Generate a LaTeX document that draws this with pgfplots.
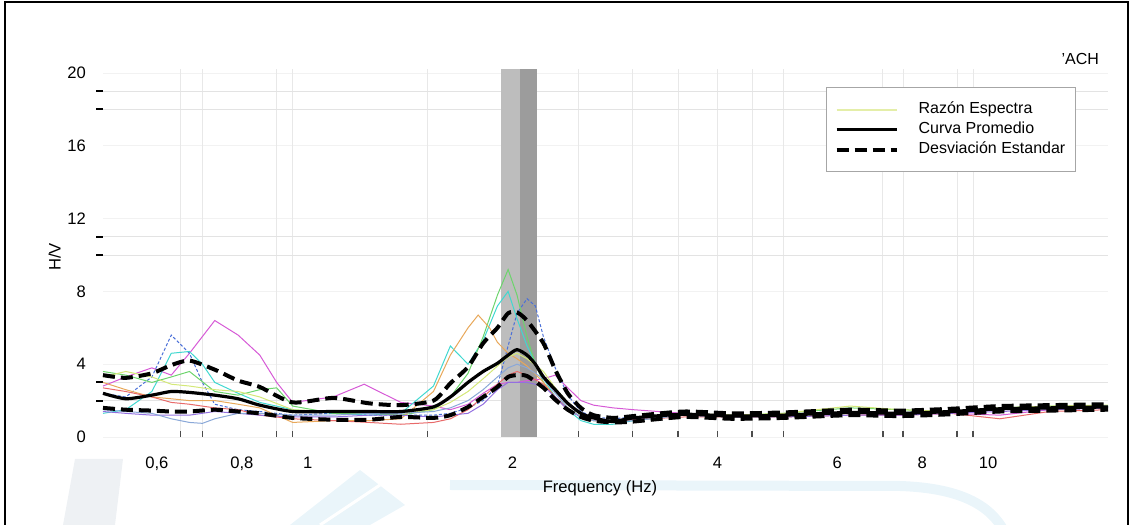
\documentclass[border=0pt]{standalone}
\usepackage{fontspec}
\setmainfont{Liberation Sans}
\usepackage{pgfplots}
\pgfplotsset{compat=1.18}
\definecolor{bandL}{HTML}{BDBDBD}
\definecolor{bandD}{HTML}{9C9C9C}
\definecolor{cMag}{HTML}{D65AD6}
\definecolor{cBlue}{HTML}{4A6FD8}
\definecolor{cCyan}{HTML}{40D8D0}
\definecolor{cGreen}{HTML}{6CD46C}
\definecolor{cOrange}{HTML}{E8A85A}
\definecolor{cYel}{HTML}{D4E878}
\definecolor{cRed}{HTML}{E86A6A}
\definecolor{cPurple}{HTML}{9370E0}
\definecolor{cLBlue}{HTML}{8AA8D8}
\definecolor{legYel}{HTML}{E4EEA8}
\definecolor{wm}{HTML}{EAF5FA}
\definecolor{wmg}{HTML}{EEF1F4}
\begin{document}
\begin{tikzpicture}[x=1pt,y=1pt]
% faint background watermark
\fill[wmg] (37.5,33) -- (61.5,33) -- (57.5,0) -- (31.5,0) -- cycle;
\fill[wm] (145,0) -- (180,27.5) -- (202.5,10) -- (185,0) -- cycle;
\draw[white, line width=1.5pt] (160,0) -- (190,20);
\draw[line width=5pt, wm] (225,20) -- (450,19.5) .. controls (480,18.5) and (495,10) .. (502,-3);
\begin{axis}[
  at={(51.5pt,44pt)}, anchor=south west,
  scale only axis, width=502.5pt, height=183.8pt,
  xmode=log, xmin=0.5, xmax=15, ymin=0, ymax=20.2,
  xtick={0.6,0.8,1,2,4,6,8,10},
  xticklabels={{0,6},{0,8},1,2,4,6,8,10},
  ytick={0,4,8,12,16,20},
  xminorticks=false, yminorticks=false,
  tick pos=left,
  major tick length=0pt,
  axis line style={draw=none},
  ymajorgrids, major grid style={gray!10},
  extra x ticks={0.65,0.7,0.9,0.95,1.5,2.5,3,3.5,4,4.5,5,7,7.5,9,9.5},
  extra x tick labels={},
  extra x tick style={grid=major, major grid style={gray!18}, major tick length=3pt, tick align=inside, tick style={black!70, line width=0.8pt}},
  extra y ticks={2,3,10,11,18,19},
  extra y tick labels={},
  extra y tick style={grid=major, major grid style={gray!22}, major tick length=3.5pt, tick align=outside, tick style={black, line width=1pt}},
  tick label style={font=\fontsize{8.3}{10}\selectfont},
  /pgf/number format/assume math mode=true,
  xticklabel style={yshift=-6.5pt},
  yticklabel style={xshift=-5pt},
  xlabel={Frequency (Hz)},
  xlabel style={at={(axis description cs:0.4945,-0.140)}, anchor=center, font=\fontsize{8.3}{10}\selectfont},
  ylabel={H/V},
  ylabel style={at={(axis description cs:-0.048,0.49)}, anchor=center, font=\fontsize{8.3}{10}\selectfont},
  legend style={at={(axis description cs:0.7194,0.952)}, anchor=north west, draw=gray!70, line width=0.6pt, fill=white,
    inner xsep=4pt, inner ysep=6pt, font=\fontsize{8}{9.6}\selectfont,
    nodes={inner sep=1pt, text height=6pt, text depth=2pt},
    /tikz/every odd column/.append style={column sep=9pt}},
  legend cell align=left,
  legend image code/.code={\draw[#1] (0pt,0pt) -- (30pt,0pt);},
  clip=false,
]
% legend entries
\addlegendimage{legYel, line width=1pt}
\addlegendentry{Razón Espectra}
\addlegendimage{black, line width=1.6pt}
\addlegendentry{Curva Promedio}
\addlegendimage{black, line width=2pt, dash pattern=on 6pt off 3pt}
\addlegendentry{Desviación Estandar}
% band
\addplot[fill=bandL, draw=none, forget plot] coordinates {(1.92,20.2) (2.05,20.2)} \closedcycle;
\addplot[fill=bandD, draw=none, forget plot] coordinates {(2.05,20.2) (2.17,20.2)} \closedcycle;
% individual curves
\addplot[cMag, line width=0.5pt, forget plot] coordinates {
(0.50,2.8)(0.54,3.3)(0.59,3.8)(0.63,3.4)(0.67,4.6)(0.73,6.4)(0.79,5.6)(0.85,4.5)(0.90,3.0)(0.95,1.9)
(1.09,2.2)(1.21,2.9)(1.37,1.9)(1.53,1.7)(1.62,1.5)(1.72,1.8)(1.81,2.4)(1.90,2.9)(1.97,3.0)(2.03,3.0)
(2.10,3.1)(2.22,3.2)(2.31,3.4)(2.41,2.7)(2.52,2.0)(2.63,1.75)(2.81,1.6)(3.01,1.5)(3.57,1.3)(4.22,1.2)
(5.0,1.25)(6.27,1.3)(7.43,1.2)(8.8,1.3)(10.4,1.2)(12.3,1.5)(15,1.6)};
\addplot[cBlue, line width=0.5pt, dash pattern=on 1.5pt off 1pt, forget plot] coordinates {
(0.50,2.4)(0.54,2.2)(0.59,3.3)(0.63,5.6)(0.67,4.6)(0.70,3.0)(0.73,1.8)(0.79,1.5)(0.85,1.4)(0.95,1.2)
(1.09,1.3)(1.23,1.2)(1.37,1.2)(1.53,1.2)(1.62,1.3)(1.72,1.6)(1.81,2.0)(1.90,2.8)(1.97,5.0)(2.03,6.8)
(2.10,7.6)(2.16,7.2)(2.22,5.5)(2.31,3.8)(2.41,2.3)(2.52,1.4)(2.63,1.1)(2.81,1.0)(3.01,1.1)(3.57,1.3)
(4.22,1.1)(5.0,1.2)(6.27,1.3)(7.43,1.3)(8.8,1.4)(10.4,1.5)(12.3,1.6)(15,1.7)};
\addplot[cCyan, line width=0.5pt, forget plot] coordinates {
(0.50,1.3)(0.54,1.5)(0.59,2.5)(0.63,4.6)(0.67,4.7)(0.70,4.0)(0.73,3.0)(0.79,2.4)(0.85,1.9)(0.95,1.5)
(1.09,1.3)(1.23,1.2)(1.37,1.3)(1.53,2.8)(1.62,5.0)(1.72,4.0)(1.81,5.3)(1.90,7.2)(1.97,8.0)(2.03,6.5)
(2.10,5.0)(2.22,3.2)(2.31,2.2)(2.41,1.5)(2.52,0.9)(2.63,0.7)(2.81,0.7)(3.01,0.9)(3.57,1.2)(4.22,1.15)
(5.0,1.2)(6.27,1.3)(7.43,1.35)(8.8,1.4)(10.4,1.5)(12.3,1.6)(15,1.7)};
\addplot[cGreen, line width=0.5pt, forget plot] coordinates {
(0.50,3.6)(0.54,3.4)(0.59,3.0)(0.63,3.3)(0.67,3.6)(0.73,2.5)(0.79,2.3)(0.85,2.6)(0.90,2.7)(0.95,1.7)
(1.09,1.3)(1.23,1.3)(1.37,1.2)(1.53,1.5)(1.62,2.2)(1.72,3.5)(1.81,5.5)(1.90,7.8)(1.97,9.2)(2.03,7.8)
(2.10,5.5)(2.16,4.0)(2.22,3.0)(2.31,2.2)(2.41,1.6)(2.52,1.1)(2.63,0.9)(2.81,0.9)(3.01,1.0)(3.57,1.3)
(4.22,1.2)(5.0,1.3)(6.27,1.6)(7.43,1.5)(8.8,1.4)(10.4,1.6)(12.3,1.7)(15,1.7)};
\addplot[cOrange, line width=0.5pt, forget plot] coordinates {
(0.50,3.0)(0.54,2.6)(0.59,2.2)(0.63,2.1)(0.67,2.0)(0.73,2.0)(0.79,1.8)(0.85,1.6)(0.95,0.8)(1.09,0.9)
(1.23,0.9)(1.37,1.0)(1.53,2.5)(1.62,4.5)(1.72,6.0)(1.78,6.7)(1.85,6.0)(1.90,5.2)(1.97,4.6)(2.03,4.3)
(2.10,3.9)(2.22,3.0)(2.31,2.2)(2.41,1.6)(2.52,1.1)(2.63,0.9)(2.81,0.9)(3.01,1.0)(3.57,1.2)(4.22,1.1)
(5.0,1.2)(6.27,1.3)(7.43,1.3)(8.8,1.35)(10.4,1.5)(12.3,1.6)(15,1.65)};
\addplot[cYel, line width=0.5pt, forget plot] coordinates {
(0.50,3.3)(0.54,3.6)(0.59,3.3)(0.63,2.9)(0.67,2.8)(0.73,2.6)(0.79,2.5)(0.85,2.2)(0.95,1.5)(1.09,1.4)
(1.23,1.3)(1.37,1.3)(1.53,1.5)(1.62,1.9)(1.72,2.5)(1.81,3.2)(1.90,3.9)(1.97,4.4)(2.03,4.6)(2.10,4.3)
(2.22,3.6)(2.31,2.7)(2.41,1.9)(2.52,1.2)(2.63,1.0)(2.81,0.9)(3.01,1.0)(3.57,1.3)(4.22,1.2)(5.0,1.3)
(6.27,1.7)(7.43,1.5)(8.8,1.4)(10.4,1.6)(12.3,1.7)(15,1.75)};
\addplot[cRed, line width=0.5pt, forget plot] coordinates {
(0.50,2.7)(0.54,2.5)(0.59,2.2)(0.63,1.9)(0.67,1.8)(0.73,1.6)(0.79,1.5)(0.85,1.2)(0.95,1.0)(1.09,0.9)
(1.23,0.8)(1.37,0.7)(1.53,0.8)(1.62,1.0)(1.72,1.5)(1.81,2.2)(1.90,2.9)(1.97,3.4)(2.03,3.6)(2.10,3.4)
(2.22,2.9)(2.31,2.2)(2.41,1.5)(2.52,1.1)(2.63,0.9)(2.81,0.85)(3.01,0.95)(3.57,1.1)(4.22,1.1)(5.0,1.1)
(6.27,1.2)(7.43,1.2)(8.8,1.3)(10.4,1.0)(12.3,1.4)(15,1.5)};
\addplot[cPurple, line width=0.5pt, forget plot] coordinates {
(0.50,1.4)(0.54,1.3)(0.59,1.2)(0.63,1.2)(0.67,1.2)(0.73,1.4)(0.79,1.3)(0.85,1.2)(0.95,1.1)(1.09,1.1)
(1.23,1.2)(1.37,1.2)(1.53,1.1)(1.62,1.2)(1.72,1.3)(1.81,1.8)(1.90,2.6)(1.97,3.0)(2.03,3.0)(2.10,3.0)
(2.22,2.8)(2.31,2.2)(2.41,1.5)(2.52,1.1)(2.63,1.0)(2.81,0.9)(3.01,1.0)(3.57,1.2)(4.22,1.1)(5.0,1.1)
(6.27,1.2)(7.43,1.2)(8.8,1.3)(10.4,1.4)(12.3,1.5)(15,1.6)};
\addplot[cLBlue, line width=0.5pt, forget plot] coordinates {
(0.50,1.5)(0.54,1.4)(0.59,1.3)(0.63,1.0)(0.67,0.8)(0.70,0.75)(0.73,1.0)(0.79,1.3)(0.85,1.3)(0.95,1.2)
(1.09,1.2)(1.23,1.3)(1.37,1.3)(1.53,1.4)(1.62,1.6)(1.72,2.0)(1.81,2.6)(1.90,3.3)(1.97,3.8)(2.03,4.0)
(2.10,3.8)(2.22,3.2)(2.31,2.4)(2.41,1.6)(2.52,1.1)(2.63,0.9)(2.81,0.8)(3.01,0.9)(3.57,1.2)(4.22,1.1)
(5.0,1.2)(6.27,1.3)(7.43,1.3)(8.8,1.4)(10.4,1.5)(12.3,1.6)(15,1.7)};
% standard deviation curves
\addplot[black, line width=2pt, dash pattern=on 6pt off 3pt, smooth, tension=0.4, forget plot] coordinates {
(0.50,3.4)(0.54,3.25)(0.59,3.5)(0.63,3.95)(0.67,4.2)(0.73,3.7)(0.79,3.1)(0.85,2.75)(0.95,1.9)(1.09,2.15)
(1.23,1.85)(1.37,1.75)(1.53,2.0)(1.62,2.95)(1.72,3.85)(1.81,5.15)(1.90,6.0)(1.97,6.8)(2.03,6.85)(2.10,6.4)
(2.22,5.15)(2.31,3.7)(2.41,2.4)(2.52,1.6)(2.63,1.2)(2.81,1.05)(3.01,1.15)(3.57,1.4)(4.22,1.3)(5.0,1.35)
(6.27,1.5)(7.43,1.45)(8.8,1.55)(10.4,1.7)(12.3,1.75)(15,1.8)};
\addplot[black, line width=2pt, dash pattern=on 6pt off 3pt, smooth, tension=0.4, forget plot] coordinates {
(0.50,1.6)(0.54,1.5)(0.59,1.45)(0.63,1.4)(0.67,1.4)(0.73,1.5)(0.79,1.4)(0.85,1.3)(0.95,1.05)(1.09,0.95)
(1.23,0.95)(1.37,1.1)(1.53,1.05)(1.62,1.2)(1.72,1.65)(1.81,2.2)(1.90,2.75)(1.97,3.3)(2.03,3.4)(2.10,3.35)
(2.22,2.7)(2.31,2.05)(2.41,1.5)(2.52,1.1)(2.63,0.9)(2.81,0.8)(3.01,0.85)(3.57,1.1)(4.22,1.0)(5.0,1.05)
(6.27,1.2)(7.43,1.15)(8.8,1.25)(10.4,1.4)(12.3,1.45)(15,1.5)};
% mean curve
\addplot[black, line width=1.6pt, smooth, tension=0.4, forget plot] coordinates {
(0.50,2.4)(0.54,2.1)(0.59,2.3)(0.63,2.5)(0.67,2.45)(0.73,2.3)(0.79,2.1)(0.85,1.75)(0.95,1.4)(1.09,1.4)
(1.23,1.4)(1.37,1.4)(1.53,1.65)(1.62,2.2)(1.72,3.0)(1.81,3.6)(1.90,4.05)(1.97,4.5)(2.03,4.8)(2.10,4.5)
(2.16,4.0)(2.22,3.3)(2.31,2.6)(2.41,1.85)(2.52,1.3)(2.63,1.05)(2.81,0.85)(3.01,1.05)(3.57,1.25)(4.22,1.15)
(5.0,1.2)(6.27,1.35)(7.43,1.3)(8.8,1.4)(10.4,1.55)(12.3,1.6)(15,1.65)};
\end{axis}
\node[anchor=east, font=\fontsize{8}{9.6}\selectfont] at (553,233) {'ACH};
\draw[black, line width=1pt] (2.5,0) -- (2.5,261.5) -- (564,261.5) -- (564,0);
\pgfresetboundingbox
\useasboundingbox (0,0) rectangle (566,262.5);
\end{tikzpicture}
\end{document}
